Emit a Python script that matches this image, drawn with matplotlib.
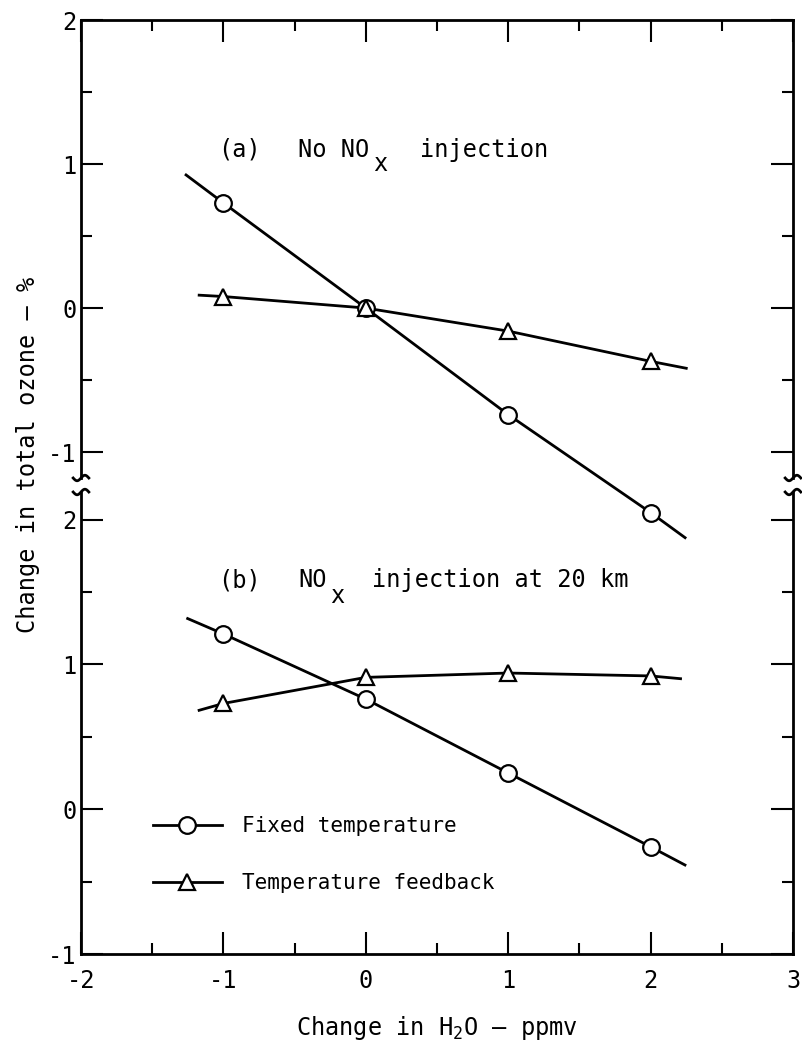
import matplotlib
matplotlib.use("Agg")
import matplotlib.pyplot as plt
from matplotlib.lines import Line2D
from matplotlib.ticker import MultipleLocator
import numpy as np

plt.rcParams['font.family'] = ['DejaVu Sans Mono', 'DejaVu Sans']
plt.rcParams['mathtext.fontset'] = 'custom'
plt.rcParams['mathtext.rm'] = 'DejaVu Sans Mono'
plt.rcParams['mathtext.it'] = 'DejaVu Sans Mono'
plt.rcParams['axes.unicode_minus'] = False

# ---- data ----
h2o = [-1, 0, 1, 2]

# (a) No NOx injection
a_fixed = [0.73, 0.0, -0.74, -1.42]
a_feedback = [0.08, 0.0, -0.16, -0.37]
# drawn line extents (x, y) beyond the data points
a_fixed_line_x = [-1.27, -1, 0, 1, 2, 2.25]
a_fixed_line_y = [0.93, 0.73, 0.0, -0.74, -1.42, -1.60]
a_feed_line_x = [-1.18, -1, 0, 1, 2, 2.26]
a_feed_line_y = [0.09, 0.08, 0.0, -0.16, -0.37, -0.42]

# (b) NOx injection at 20 km
b_fixed = [1.21, 0.76, 0.25, -0.26]
b_feedback = [0.73, 0.91, 0.94, 0.92]
b_fixed_line_x = [-1.26, -1, 0, 1, 2, 2.25]
b_fixed_line_y = [1.32, 1.21, 0.76, 0.25, -0.26, -0.39]
b_feed_line_x = [-1.18, -1, 0, 1, 2, 2.22]
b_feed_line_y = [0.68, 0.73, 0.91, 0.94, 0.92, 0.90]

x_ticks = [-2, -1, 0, 1, 2, 3]
x_ticklabels = ['-2', '-1', '0', '1', '2', '3']
y_ticks = [-1, 0, 1, 2]
y_ticklabels = ['-1', '0', '1', '2']

FS = 17
W, H = 802, 1055
fig = plt.figure(figsize=(W / 100, H / 100), dpi=100)

left = 81 / W
width = (793 - 81) / W
ax_bot = fig.add_axes([left, 1 - 954 / H, width, 462 / H])
ax_top = fig.add_axes([left, 1 - 478 / H, width, 458 / H])
ax_top.set_zorder(3)
ax_top.patch.set_alpha(0)

lw_spine = 2.0
for ax in (ax_top, ax_bot):
    ax.set_xlim(-2, 3)
    for s in ax.spines.values():
        s.set_linewidth(lw_spine)
    ax.xaxis.set_major_locator(MultipleLocator(1))
    ax.xaxis.set_minor_locator(MultipleLocator(0.5))
    ax.yaxis.set_minor_locator(MultipleLocator(0.5))
    ax.set_yticks(y_ticks)
    ax.set_yticklabels(y_ticklabels)
    ax.tick_params(which='major', direction='in', length=16, width=1.5,
                   labelsize=FS, pad=3)
    ax.tick_params(which='minor', direction='in', length=8, width=1.5)
    ax.tick_params(axis='y', which='both', left=True, right=True)

ax_top.set_ylim(-1.18, 2.0)
ax_bot.set_ylim(-1.0, 2.19)

ax_top.spines['bottom'].set_visible(False)
ax_bot.spines['top'].set_visible(False)
ax_top.tick_params(axis='x', which='both', top=True, bottom=False,
                   labelbottom=False)
ax_bot.tick_params(axis='x', which='both', top=False, bottom=True)
ax_bot.set_xticks(x_ticks)
ax_bot.set_xticklabels(x_ticklabels)
ax_bot.tick_params(axis='x', which='major', pad=11)

line_kw = dict(color='black', lw=2.0, solid_capstyle='butt', zorder=2)
circ_kw = dict(ls='none', marker='o', ms=12, mfc='white', mec='black',
               mew=1.6, zorder=3)
tri_kw = dict(ls='none', marker='^', ms=12, mfc='white', mec='black',
              mew=1.6, zorder=3)

# panel (a)
ax_top.plot(a_fixed_line_x, a_fixed_line_y, clip_on=False, **line_kw)
ax_top.plot(a_feed_line_x, a_feed_line_y, clip_on=False, **line_kw)
ax_top.plot(h2o, a_fixed, clip_on=False, **circ_kw)
ax_top.plot(h2o, a_feedback, clip_on=False, **tri_kw)

# panel (b)
ax_bot.plot(b_fixed_line_x, b_fixed_line_y, **line_kw)
ax_bot.plot(b_feed_line_x, b_feed_line_y, **line_kw)
ax_bot.plot(h2o, b_fixed, **circ_kw)
ax_bot.plot(h2o, b_feedback, **tri_kw)


def px2x(px):
    return -2 + (px - 81) / 712 * 5


# panel titles, typed with a lowered "x" subscript
ty_a = 1.10
ax_top.text(px2x(218), ty_a, '(a)', fontsize=FS, ha='left', va='center')
ax_top.text(px2x(298), ty_a, 'No NO', fontsize=FS, ha='left', va='center')
ax_top.text(px2x(373), ty_a - 0.10, 'x', fontsize=FS, ha='left', va='center')
ax_top.text(px2x(420), ty_a, 'injection', fontsize=FS, ha='left', va='center')

ty_b = 1.58
ax_bot.text(px2x(218), ty_b, '(b)', fontsize=FS, ha='left', va='center')
ax_bot.text(px2x(298), ty_b, 'NO', fontsize=FS, ha='left', va='center')
ax_bot.text(px2x(330), ty_b - 0.11, 'x', fontsize=FS, ha='left', va='center')
ax_bot.text(px2x(372), ty_b, 'injection at 20 km', fontsize=FS, ha='left',
            va='center')

handles = [
    Line2D([], [], color='black', lw=2.0, marker='o', ms=12, mfc='white',
           mec='black', mew=1.6),
    Line2D([], [], color='black', lw=2.0, marker='^', ms=12, mfc='white',
           mec='black', mew=1.6),
]
ax_bot.legend(handles, ['Fixed temperature', 'Temperature feedback'],
              loc='upper left', bbox_to_anchor=(0.101, 0.298), frameon=False,
              fontsize=15, handlelength=3.3, handletextpad=1.0,
              labelspacing=1.78, borderpad=0, borderaxespad=0, numpoints=1)

# axis break marks (~) on the left and right spines
t = np.linspace(-1, 1, 40)
bx = 0.011 * t
by = 0.006 * np.sin(np.pi * t)
for ax, y0 in ((ax_top, 0.0), (ax_bot, 1.0)):
    for x0 in (0.0, 1.0):
        ax.plot(x0 + bx, y0 + by, transform=ax.transAxes, color='black',
                lw=2.0, clip_on=False, zorder=5)

fig.text(28 / W, 1 - 455 / H, 'Change in total ozone \u2013 %', rotation=90,
         fontsize=17, ha='center', va='center')
fig.text(437 / W, 1 - 1028 / H, 'Change in H$_2$O \u2014 ppmv',
         fontsize=17, ha='center', va='center')

fig.savefig('out.png', dpi=100, facecolor='white')
